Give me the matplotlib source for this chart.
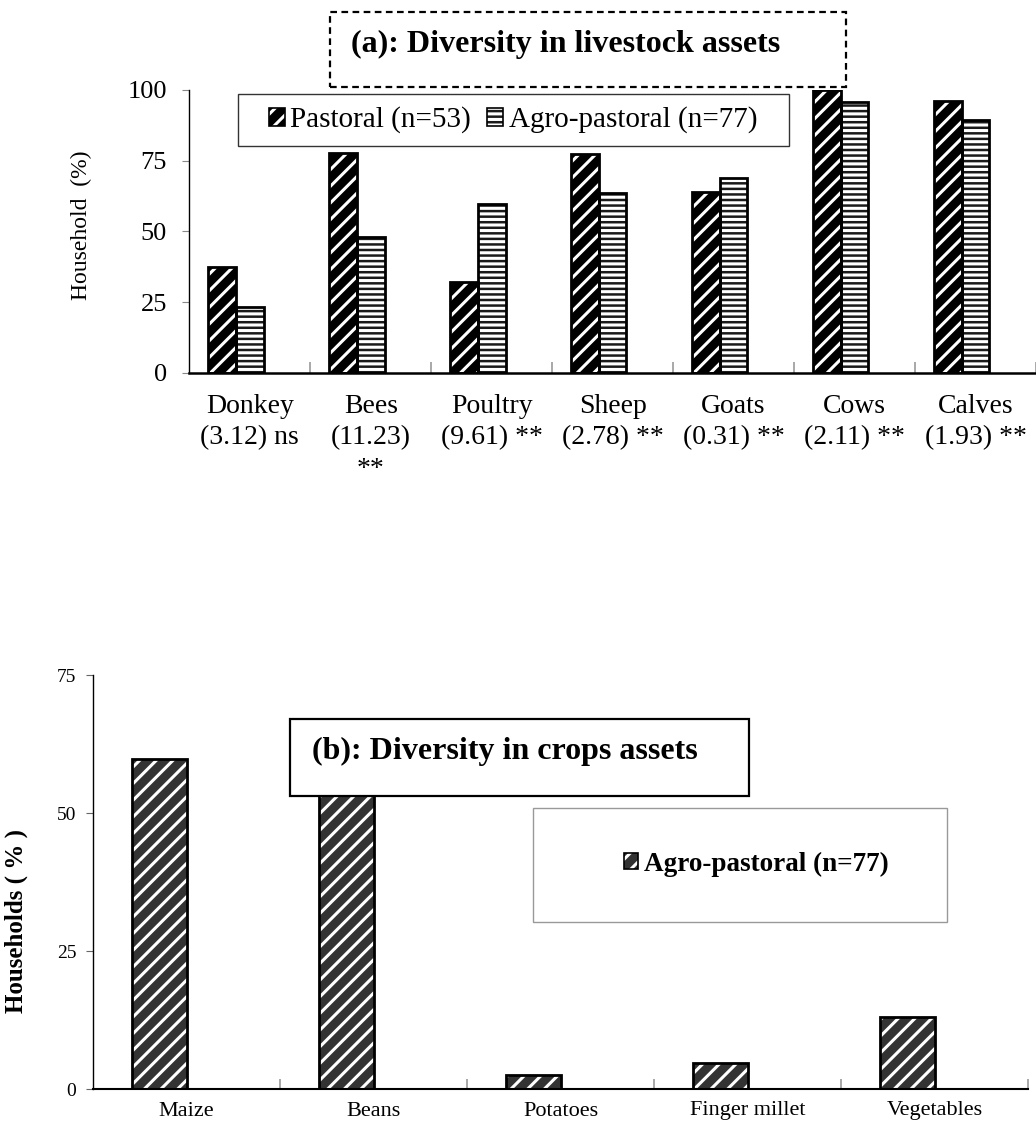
import numpy as np
import matplotlib
matplotlib.use("Agg")
import matplotlib.pyplot as plt
from matplotlib.patches import Rectangle, Patch

plt.rcParams['font.family'] = 'serif'
plt.rcParams['font.serif'] = ['Liberation Serif', 'DejaVu Serif']
plt.rcParams['hatch.linewidth'] = 2.2

# (a) livestock
livestock = ["Donkey\n(3.12) ns", "Bees\n(11.23)\n**", "Poultry\n(9.61) **",
             "Sheep\n(2.78) **", "Goats\n(0.31) **", "Cows\n(2.11) **",
             "Calves\n(1.93) **"]
pastoral = [37.5, 77.6, 32.1, 77.4, 64.0, 100.0, 96.1]
agro_pastoral = [23.3, 48.1, 59.7, 63.5, 68.8, 95.9, 89.4]

# (b) crops
crops = ["Maize", "Beans", "Potatoes", "Finger millet", "Vegetables"]
agro_crops = [59.7, 55.8, 2.6, 4.7, 13.0]

W, H = 1036, 1126
fig = plt.figure(figsize=(W / 100, H / 100), dpi=100)


def fx(px): return px / W
def fy(py): return 1 - py / H


def hatched_bars(ax, x, vals, w, face, hcol, hatch, lw=2):
    ax.bar(x, vals, w, color=face, edgecolor=hcol, hatch=hatch, linewidth=0, zorder=2)
    ax.bar(x, vals, w, fill=False, edgecolor='black', linewidth=lw, zorder=3)


def handle(face, hcol, hatch):
    return (Patch(facecolor=face, edgecolor=hcol, hatch=hatch, linewidth=0),
            Patch(fill=False, edgecolor='black', linewidth=1.2))


# ---------- top chart ----------
ax1 = fig.add_axes([fx(189.3), fy(372.7), fx(1036 - 189.3), (372.7 - 90) / H])
x = np.arange(len(livestock))
w = 0.229
hatched_bars(ax1, x - w, pastoral, w, 'black', 'white', '//')
hatched_bars(ax1, x, agro_pastoral, w, '#1a1a1a', 'white', '---')

ax1.set_xlim(-0.5, -0.5 + (1036 - 189.3) / 122.4)
ax1.set_ylim(0, 100)
ax1.set_yticks([0, 25, 50, 75, 100])
ax1.set_xticks(x)
ax1.set_xticklabels(livestock, fontsize=20, linespacing=1.35)
ax1.set_xticks(np.arange(len(livestock)) + 0.5, minor=True)
ax1.tick_params(axis='x', which='major', length=0, pad=15)
ax1.tick_params(axis='x', which='minor', direction='in', length=8, color='#999999', width=1.2)
ax1.tick_params(axis='y', labelsize=19, length=5, color='#888888', pad=11)
for s in ['top', 'right']:
    ax1.spines[s].set_visible(False)
ax1.spines['bottom'].set_linewidth(1.8)
ax1.spines['left'].set_linewidth(1.0)
ax1.set_ylabel("Household  (%)", fontsize=17)
ax1.yaxis.set_label_coords(-0.115, 0.52)

# title box (a)
fig.add_artist(Rectangle((fx(330), fy(87)), fx(846 - 330), (87 - 12) / H,
                         transform=fig.transFigure, fill=False, edgecolor='black',
                         linewidth=1.6, linestyle=(0, (3, 2))))
fig.text(fx(351), fy(44), "(a): Diversity in livestock assets", fontsize=23,
         fontweight='bold', ha='left', va='center')

# legend (a)
fig.add_artist(Rectangle((fx(238), fy(146)), fx(789 - 238), (146 - 94) / H,
                         transform=fig.transFigure, fill=False, edgecolor='#333333',
                         linewidth=1.0, zorder=5))
fig.legend([handle('black', 'white', '//'), handle('#1a1a1a', 'white', '---')],
           ["Pastoral (n=53)", "Agro-pastoral (n=77)"],
           loc='center left', bbox_to_anchor=(fx(254), fy(120)), ncol=2,
           frameon=False, fontsize=21, handlelength=0.55, handleheight=0.55,
           handletextpad=0.2, columnspacing=0.55, borderpad=0)

# ---------- bottom chart ----------
ax2 = fig.add_axes([fx(93), fy(1089), fx(1028 - 93), (1089 - 675) / H])
x2 = np.arange(len(crops))
w2 = 0.289
hatched_bars(ax2, x2 - w2 / 2, agro_crops, w2, '#333333', 'white', '//')

ax2.set_xlim(-0.5, len(crops) - 0.5)
ax2.set_ylim(0, 75)
ax2.set_yticks([0, 25, 50, 75])
ax2.set_xticks(x2)
ax2.set_xticklabels(crops, fontsize=16)
ax2.set_xticks(np.arange(len(crops)) + 0.5, minor=True)
ax2.tick_params(axis='x', which='major', length=0, pad=9)
ax2.tick_params(axis='x', which='minor', direction='in', length=7, color='#999999', width=1.2)
ax2.tick_params(axis='y', labelsize=14, length=5, color='#666666', pad=7)
for s in ['top', 'right']:
    ax2.spines[s].set_visible(False)
ax2.spines['bottom'].set_linewidth(1.5)
ax2.spines['left'].set_linewidth(1.0)
ax2.set_ylabel("Households ( % )", fontsize=18, fontweight='bold')
ax2.yaxis.set_label_coords(-0.069, 0.406)

# title box (b)
fig.add_artist(Rectangle((fx(290), fy(796)), fx(749 - 290), (796 - 719) / H,
                         transform=fig.transFigure, facecolor='white', edgecolor='black',
                         linewidth=1.6, zorder=5))
fig.text(fx(312), fy(751), "(b): Diversity in crops assets", fontsize=23,
         fontweight='bold', ha='left', va='center', zorder=6)

# legend (b)
fig.add_artist(Rectangle((fx(533), fy(922)), fx(947 - 533), (922 - 808) / H,
                         transform=fig.transFigure, facecolor='white', edgecolor='#999999',
                         linewidth=1.0, zorder=5))
leg = fig.legend([handle('#333333', 'white', '//')], ["Agro-pastoral (n=77)"],
                 loc='center left', bbox_to_anchor=(fx(610), fy(864)),
                 frameon=False, handlelength=0.55, handleheight=0.55,
                 handletextpad=0.2, borderpad=0, prop={'weight': 'bold', 'size': 19.5})
leg.set_zorder(6)

fig.savefig("out.png", dpi=100)
